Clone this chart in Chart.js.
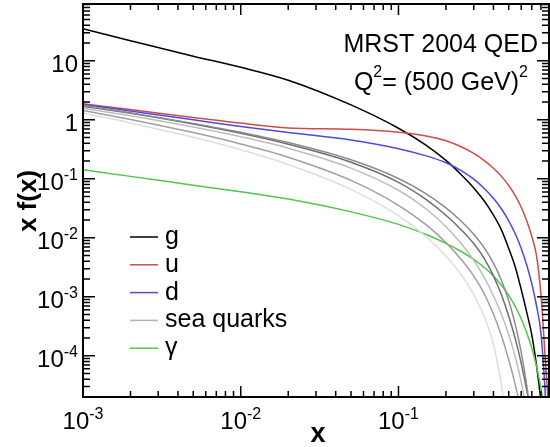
<!DOCTYPE html>
<html>
<head>
<meta charset="utf-8">
<script src="https://cdn.jsdelivr.net/npm/chart.js@4.4.1/dist/chart.umd.min.js"></script>
<style>
html, body { margin: 0; padding: 0; background: #fff; }
canvas { display: block; }
</style>
</head>
<body>
<canvas id="pdf" width="550" height="447"></canvas>
<script>
// x grid shared by every curve
const xGrid = [0.001, 0.002, 0.005, 0.01, 0.02, 0.05, 0.1, 0.15, 0.2, 0.25, 0.3, 0.35,
               0.4, 0.45, 0.5, 0.55, 0.6, 0.65, 0.7, 0.75, 0.8, 0.85, 0.9];

const gluon  = [35, 22, 12, 7.8, 4.7, 1.79, 0.72, 0.37, 0.205, 0.117, 0.07, 0.042,
                0.0243, 0.0135, 0.0066, 0.0032, 0.00133, 5.5e-4, 2.26e-4, 6.9e-5, 1.7e-5, 3e-6, 1e-7];
const uQuark = [1.87, 1.49, 1.10, 0.88, 0.73, 0.69, 0.614, 0.532, 0.442, 0.349, 0.269, 0.204,
                0.151, 0.11, 0.077, 0.0521, 0.033, 0.0195, 0.0106, 0.005, 1.1e-3, 1.0e-4, 1.0e-5];
const dQuark = [1.83, 1.41, 1.0, 0.77, 0.61, 0.455, 0.324, 0.245, 0.187, 0.138, 0.0986, 0.0687,
                0.0467, 0.0308, 0.0194, 0.0117, 0.0066, 0.00347, 0.00167, 7.05e-4, 2.43e-4, 2.5e-5, 1e-6];
const photon = [0.142, 0.11, 0.078, 0.0605, 0.0453, 0.0275, 0.0169, 0.0114, 0.00805, 0.00586, 0.0043, 0.00314,
                0.00225, 0.00157, 0.00106, 6.9e-4, 4.24e-4, 2.46e-4, 1.35e-4, 6.6e-5, 2.8e-5, 9.3e-6, 1e-6];

// sea quarks (first 19 grid points)
const seaA = [1.76, 1.32, 0.871, 0.614, 0.412, 0.210, 0.1014, 0.0557, 0.0322, 0.0191, 0.0115, 0.00673,
              0.00372, 0.00189, 8.55e-4, 3.4e-4, 1.14e-4, 3.14e-5, 6.8e-6];
const seaB = [1.70, 1.29, 0.849, 0.590, 0.386, 0.191, 0.0873, 0.0445, 0.0241, 0.0137, 0.00798, 0.00444,
              0.00226, 0.00107, 4.69e-4, 1.95e-4, 7.45e-5, 2.61e-5, 8.3e-6];
const seaC = [1.58, 1.17, 0.753, 0.516, 0.331, 0.152, 0.064, 0.0308, 0.01545, 0.0080, 0.00416, 0.00211,
              0.00104, 5.0e-4, 2.26e-4, 9.6e-5, 3.58e-5, 1.16e-5, 3.3e-6];
const seaD = [1.44, 1.016, 0.608, 0.390, 0.232, 0.094, 0.0356, 0.01652, 0.00828, 0.0043, 0.00226, 0.00112,
              5.09e-4, 2.16e-4, 8.55e-5, 3.25e-5, 1.14e-5, 3.7e-6];
const seaE = [1.30, 0.887, 0.505, 0.31, 0.175, 0.0662, 0.02366, 0.01042, 0.00493, 0.00236, 0.00109, 4.55e-4,
              1.56e-4, 3.1e-5, 3.3e-6];

// axis ticks
const xMajor = [1e-3, 1e-2, 1e-1];
const xTickBase = ['10', '10', '10'];
const xTickExp = ['-3', '-2', '-1'];
const yMajor = [1e-4, 1e-3, 1e-2, 1e-1, 1, 10];
const yTickBase = ['10', '10', '10', '10', '1', '10'];
const yTickExp = ['-4', '-3', '-2', '-1', '', ''];

const legendLabels = ['g', 'u', 'd', 'sea quarks', 'γ'];

const FONT = '"Liberation Sans", Arial, sans-serif';

function series(vals) {
    return vals.map((v, i) => ({ x: xGrid[i], y: v }));
}

function curve(label, vals, color) {
    return {
        label: label,
        data: series(vals),
        borderColor: color,
        borderWidth: 1.5,
        pointRadius: 0,
        fill: false,
        cubicInterpolationMode: 'monotone'
    };
}

const legendColors = ['#000000', '#d24a4a', '#4a4ae0', '#b4b4b4', '#4cc94c'];

function drawPow(ctx, base, exp, x, y, align) {
    ctx.font = '24px ' + FONT;
    const bw = ctx.measureText(base).width;
    ctx.font = '16px ' + FONT;
    const ew = exp ? ctx.measureText(exp).width : 0;
    const w = bw + ew;
    const start = align === 'right' ? x - w : x - w / 2;
    ctx.textAlign = 'left';
    ctx.textBaseline = 'alphabetic';
    ctx.font = '24px ' + FONT;
    ctx.fillText(base, start, y);
    if (exp) {
        ctx.font = '16px ' + FONT;
        ctx.fillText(exp, start + bw, y - 10);
    }
}

const framePlugin = {
    id: 'frame',
    beforeDraw(chart) {
        const ctx = chart.ctx;
        ctx.save();
        ctx.fillStyle = '#fff';
        ctx.fillRect(0, 0, chart.width, chart.height);
        ctx.restore();
    },
    afterDraw(chart) {
        const { ctx, chartArea: a, scales: { x, y } } = chart;
        ctx.save();
        ctx.strokeStyle = '#000';
        ctx.fillStyle = '#000';

        // ticks
        ctx.lineWidth = 1.5;
        ctx.beginPath();
        for (let e = -3; e <= 0; e++) {
            for (let k = 1; k < 10; k++) {
                const v = k * Math.pow(10, e);
                if (v < x.min || v > x.max) continue;
                const px = x.getPixelForValue(v);
                const len = k === 1 ? 11 : 6;
                ctx.moveTo(px, a.bottom); ctx.lineTo(px, a.bottom - len);
                ctx.moveTo(px, a.top); ctx.lineTo(px, a.top + len);
            }
        }
        for (let e = -5; e <= 1; e++) {
            for (let k = 1; k < 10; k++) {
                const v = k * Math.pow(10, e);
                if (v < y.min || v > y.max) continue;
                const py = y.getPixelForValue(v);
                const len = k === 1 ? 12 : 7;
                ctx.moveTo(a.left, py); ctx.lineTo(a.left + len, py);
                ctx.moveTo(a.right, py); ctx.lineTo(a.right - len, py);
            }
        }
        ctx.stroke();

        ctx.lineWidth = 2;
        ctx.strokeRect(a.left, a.top, a.right - a.left, a.bottom - a.top);

        // tick labels
        xMajor.forEach((v, i) => {
            drawPow(ctx, xTickBase[i], xTickExp[i], x.getPixelForValue(v), 429, 'center');
        });
        yMajor.forEach((v, i) => {
            drawPow(ctx, yTickBase[i], yTickExp[i], 78, y.getPixelForValue(v) + 11, 'right');
        });

        // axis titles
        ctx.font = 'bold 27px ' + FONT;
        ctx.textAlign = 'center';
        ctx.fillText('x', 318, 442);
        ctx.save();
        ctx.translate(36, 201);
        ctx.rotate(-Math.PI / 2);
        ctx.font = 'bold 26px ' + FONT;
        ctx.fillText('x f(x)', 0, 0);
        ctx.restore();

        // top-right text
        ctx.font = '25px ' + FONT;
        ctx.textAlign = 'right';
        ctx.fillText('MRST 2004 QED', 538, 52);

        const parts = [['Q', 25, 0], ['2', 16, -13], ['= (500 GeV)', 25, 0], ['2', 16, -13]];
        let total = 0;
        parts.forEach(p => { ctx.font = p[1] + 'px ' + FONT; total += ctx.measureText(p[0]).width; });
        let cx = 528 - total;
        ctx.textAlign = 'left';
        parts.forEach(p => {
            ctx.font = p[1] + 'px ' + FONT;
            ctx.fillText(p[0], cx, 90 + p[2]);
            cx += ctx.measureText(p[0]).width;
        });

        // legend
        ctx.font = '25px ' + FONT;
        ctx.lineWidth = 1.5;
        legendLabels.forEach((lab, i) => {
            const ly = 237 + i * 27.8;
            ctx.strokeStyle = legendColors[i];
            ctx.beginPath();
            ctx.moveTo(130, ly); ctx.lineTo(158, ly);
            ctx.stroke();
            ctx.fillStyle = '#000';
            ctx.fillText(lab, 165, ly + 7);
        });
        ctx.restore();
    }
};

new Chart(document.getElementById('pdf'), {
    type: 'line',
    data: {
        datasets: [
            curve('sea E', seaE, '#dedede'),
            curve('sea C', seaC, '#bdbdbd'),
            curve('sea D', seaD, '#a0a0a0'),
            curve('sea A', seaA, '#8c8c8c'),
            curve('sea B', seaB, '#6e6e6e'),
            curve('γ', photon, '#4cc94c'),
            curve('d', dQuark, '#4a4ae0'),
            curve('u', uQuark, '#d24a4a'),
            curve('g', gluon, '#000000')
        ]
    },
    options: {
        responsive: false,
        animation: false,
        devicePixelRatio: 1,
        layout: { padding: { left: 83, right: 1, top: 4, bottom: 50 } },
        plugins: { legend: { display: false }, tooltip: { enabled: false } },
        scales: {
            x: { type: 'logarithmic', min: 0.001, max: 0.9, display: false },
            y: { type: 'logarithmic', min: 2e-5, max: 92, display: false }
        }
    },
    plugins: [framePlugin]
});
</script>
</body>
</html>
